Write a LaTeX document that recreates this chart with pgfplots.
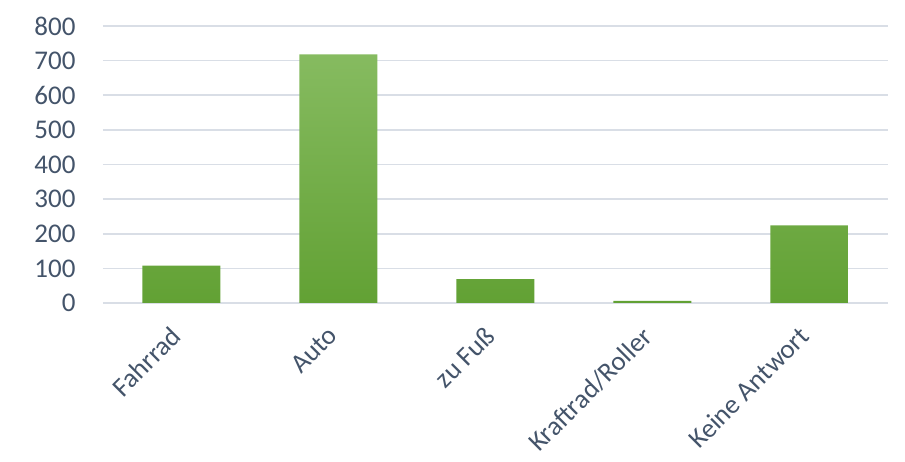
\documentclass[border=0pt]{standalone}
\usepackage{pgfplots}
\pgfplotsset{compat=1.18}
\usepackage{fontspec}
\setmainfont{Carlito}
\definecolor{txtcol}{RGB}{68,84,106}
\definecolor{gridcol}{RGB}{217,222,230}
\definecolor{bartop}{RGB}{134,187,96}
\definecolor{barbot}{RGB}{98,161,52}
\begin{document}
\begin{tikzpicture}
\begin{axis}[
  scale only axis,
  width=785bp, height=277bp,
  ymin=0, ymax=800,
  xmin=-0.5, xmax=4.5,
  ytick={0,100,...,800},
  xtick={0,1,2,3,4},
  xticklabels={Fahrrad,Auto,zu Fuß,Kraftrad/Roller,Keine Antwort},
  axis line style={draw=none},
  major tick length=0pt,
  ymajorgrids=true, xmajorgrids=false,
  grid style={draw=gridcol, line width=1.6bp},
  tick label style={font=\fontsize{27bp}{31bp}\selectfont, text=txtcol},
  /pgf/number format/assume math mode=true,
  yticklabel style={xshift=-24bp},
  xticklabel style={xshift=-12bp, yshift=-22bp, rotate=45, anchor=north east, inner sep=0pt},
  clip=false,
]
\addplot[ybar, bar width=78bp, draw=none, top color=bartop, bottom color=barbot]
  coordinates {(0,108) (1,718) (2,69) (3,6) (4,224)};
\path (rel axis cs:-0.1312,-0.574) rectangle (rel axis cs:1.0217,1.0939);
\end{axis}
\end{tikzpicture}
\end{document}
